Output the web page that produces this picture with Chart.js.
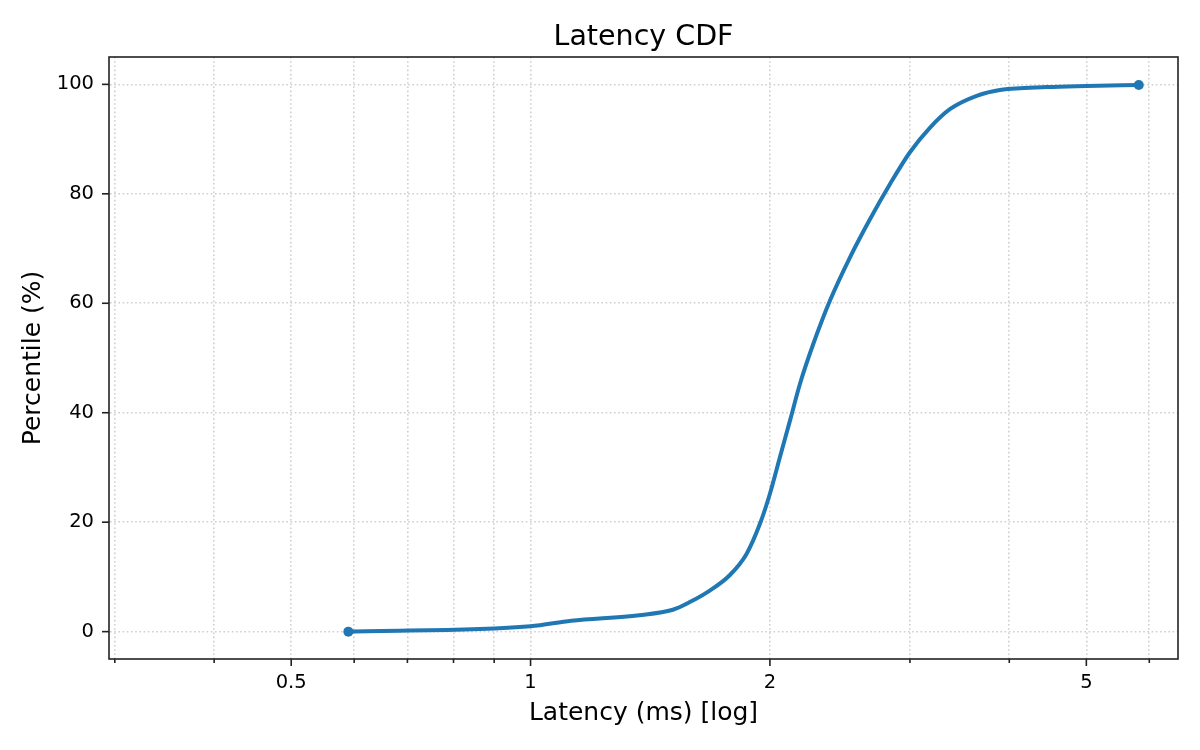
<!DOCTYPE html>
<html><head><meta charset="utf-8">
<script src="https://cdn.jsdelivr.net/npm/chart.js@4.4.1/dist/chart.umd.min.js"></script>
<style>html,body{margin:0;padding:0;background:#fff}#wrap{width:1200px;height:750px}</style>
</head><body><div id="wrap"><canvas id="c"></canvas></div>
<script>
const latencyMs = [0.59, 1.0, 1.125, 1.37, 1.51, 1.586, 1.68, 1.78, 1.869, 1.943, 2.0, 2.059, 2.12, 2.182, 2.268, 2.38, 2.522, 2.673, 2.832, 3.0, 3.18, 3.371, 3.64, 3.91, 4.46, 5.0, 5.82];
const percentile = [0, 1, 2, 3, 4, 5.4, 7.5, 10.3, 14.2, 19.7, 25.2, 31.9, 38.6, 45.3, 52.6, 60.5, 68.4, 75.4, 81.8, 87.6, 92.1, 95.5, 97.9, 99.0, 99.5, 99.7, 99.9];
const xTickValues = [0.3, 0.4, 0.5, 0.6, 0.7, 0.8, 0.9, 1, 2, 3, 4, 5, 6];
const xTickLabels = {'0.5': '0.5', '1': '1', '2': '2', '5': '5'};
const yTickValues = [0, 20, 40, 60, 80, 100];

const FAMILY = '"DejaVu Sans", sans-serif';
const SPINE = '#222';
const GRID = '#cfcfcf';

const framePlugin = {
  id: 'frame',
  afterDraw(chart) {
    const {ctx, chartArea: a, scales: {x, y}} = chart;
    ctx.save();
    ctx.strokeStyle = SPINE;
    ctx.lineWidth = 1.6;
    x.ticks.forEach(t => {
      const px = x.getPixelForValue(t.value);
      const len = (String(t.value) in xTickLabels) ? 7 : 4;
      ctx.beginPath(); ctx.moveTo(px, a.bottom); ctx.lineTo(px, a.bottom + len); ctx.stroke();
    });
    y.ticks.forEach(t => {
      const py = y.getPixelForValue(t.value);
      ctx.beginPath(); ctx.moveTo(a.left, py); ctx.lineTo(a.left - 7, py); ctx.stroke();
    });
    ctx.strokeRect(a.left, a.top, a.right - a.left, a.bottom - a.top);
    ctx.restore();
  }
};

const n = latencyMs.length;
new Chart(document.getElementById('c'), {
  type: 'line',
  data: {
    datasets: [{
      data: latencyMs.map((x, i) => ({x, y: percentile[i]})),
      borderColor: '#1f77b4',
      backgroundColor: '#1f77b4',
      borderWidth: 4,
      pointRadius: c => (c.dataIndex === 0 || c.dataIndex === n - 1) ? 5 : 0,
      pointHoverRadius: 0,
      pointBorderWidth: 0,
      cubicInterpolationMode: 'monotone',
      fill: false,
      borderJoinStyle: 'round',
      borderCapStyle: 'round'
    }]
  },
  options: {
    responsive: true,
    maintainAspectRatio: false,
    animation: false,
    events: [],
    layout: {padding: {left: 0, right: 22, top: 0, bottom: 0}},
    plugins: {
      legend: {display: false},
      tooltip: {enabled: false},
      title: {
        display: true, text: 'Latency CDF', color: '#000', fullSize: false,
        font: {family: FAMILY, size: 28.5, weight: 'normal', lineHeight: 1.2},
        padding: {top: 20, bottom: 2.8}
      }
    },
    scales: {
      x: {
        type: 'logarithmic', min: 0.295, max: 6.52,
        afterBuildTicks: s => { s.ticks = xTickValues.map(v => ({value: v, major: false})); },
        afterFit: s => { s.height = 91; },
        ticks: {
          autoSkip: false, maxRotation: 0, minRotation: 0, padding: 5, color: '#000',
          font: {family: FAMILY, size: 19.5},
          callback: v => xTickLabels[String(v)] ?? ''
        },
        grid: {color: GRID, lineWidth: 1.6, tickLength: 7, tickColor: 'rgba(0,0,0,0)', drawTicks: true},
        border: {display: true, color: 'rgba(0,0,0,0)', dash: [1.6, 2.6]},
        title: {
          display: true, text: 'Latency (ms) [log]', color: '#000',
          font: {family: FAMILY, size: 25, lineHeight: 1.2},
          padding: {top: 0, bottom: 22}
        }
      },
      y: {
        type: 'linear', min: -5, max: 105,
        afterBuildTicks: s => { s.ticks = yTickValues.map(v => ({value: v})); },
        afterFit: s => { s.width = 109; },
        ticks: {padding: 8, color: '#000', font: {family: FAMILY, size: 19.5}, callback: v => String(v)},
        grid: {color: GRID, lineWidth: 1.6, tickLength: 7, tickColor: 'rgba(0,0,0,0)', drawTicks: true},
        border: {display: true, color: 'rgba(0,0,0,0)', dash: [1.6, 2.6]},
        title: {
          display: true, text: 'Percentile (%)', color: '#000',
          font: {family: FAMILY, size: 25, lineHeight: 1.2},
          padding: {top: 18.5, bottom: 0}
        }
      }
    }
  },
  plugins: [framePlugin]
});
</script></body></html>
